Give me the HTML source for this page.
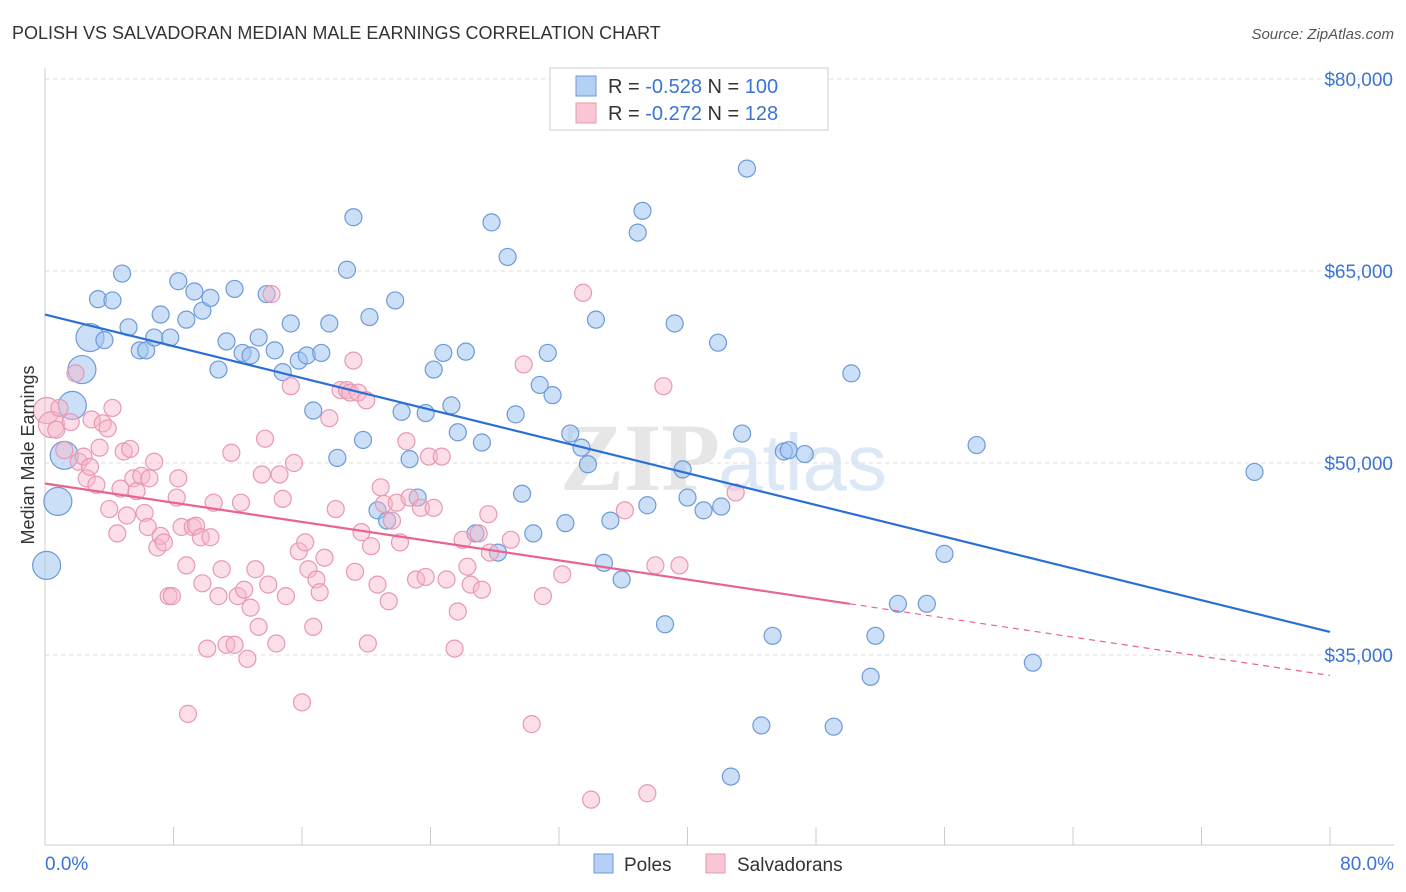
<!DOCTYPE html>
<html><head><meta charset="utf-8"><style>
body{margin:0;background:#fff;font-family:"Liberation Sans",sans-serif;}
svg{display:block}
</style></head><body>
<svg id="c" width="1406" height="892" xmlns="http://www.w3.org/2000/svg">
<text x="12" y="39" font-size="18" fill="#333">POLISH VS SALVADORAN MEDIAN MALE EARNINGS CORRELATION CHART</text>
<text x="1394" y="39" font-size="15" fill="#555" font-style="italic" text-anchor="end">Source: ZipAtlas.com</text>
<text x="720" y="490" font-size="96" fill="#e6e6e6" font-family="Liberation Serif" text-anchor="end" font-weight="bold">ZIP</text>
<text x="718" y="490" font-size="80" fill="#dce8f6">atlas</text>
<g id="grid"></g><g id="axes"></g><g id="pts"></g><g id="lines"></g>
<text transform="translate(34,455) rotate(-90)" font-size="18" fill="#333" text-anchor="middle">Median Male Earnings</text>
<g>
<rect x="550" y="68" width="278" height="62" fill="#fff" stroke="#ccc"/>
<rect x="576" y="76" width="20" height="20" fill="#b4d0f4" stroke="#6f9ad8"/>
<rect x="576" y="103" width="20" height="20" fill="#f9c6d4" stroke="#e899b2"/>
<text x="608" y="93" font-size="20" fill="#333">R = <tspan fill="#3a74d4">-0.528</tspan>   N = <tspan fill="#3a74d4">100</tspan></text>
<text x="608" y="120" font-size="20" fill="#333">R = <tspan fill="#3a74d4">-0.272</tspan>   N =  <tspan fill="#3a74d4">128</tspan></text>
</g>
<g>
<rect x="594" y="854" width="19" height="19" fill="#b4d0f4" stroke="#6f9ad8"/>
<text x="624" y="871" font-size="19" fill="#333">Poles</text>
<rect x="706" y="854" width="19" height="19" fill="#f9c6d4" stroke="#e899b2"/>
<text x="737" y="871" font-size="19" fill="#333">Salvadorans</text>
</g>
</svg>
<script>
const yTicks=[35000,50000,65000,80000];
const yTickLabels=["$35,000","$50,000","$65,000","$80,000"];
const xTickVals=[0,8,16,24,32,40,48,56,64,72,80];
const xEndLabels=["0.0%","80.0%"];
const polesX=[0.1,0.8,1.2,1.7,2.3,2.8,3.3,3.7,4.2,4.8,5.2,5.9,6.3,6.8,7.2,7.8,8.3,8.8,9.3,9.8,10.3,10.8,11.3,11.8,12.3,12.8,13.3,13.8,14.3,14.8,15.3,15.8,16.3,16.7,17.2,17.7,18.2,18.8,19.2,19.8,20.2,20.7,21.3,21.8,22.2,22.7,23.2,23.7,24.2,24.8,25.3,25.7,26.2,26.8,27.2,27.8,28.2,28.8,29.3,29.7,30.4,30.8,31.3,31.6,32.4,32.7,33.4,33.8,34.3,34.8,35.2,35.9,36.9,37.2,37.5,38.6,39.2,39.7,40.0,41.0,41.9,42.1,42.7,43.4,43.7,44.6,45.3,46.0,46.3,47.3,49.1,50.2,51.4,51.7,53.1,54.9,56.0,58.0,61.5,75.3];
const polesY=[42.0,47.0,50.6,54.5,57.3,59.8,62.8,59.6,62.7,64.8,60.6,58.8,58.8,59.8,61.6,59.8,64.2,61.2,63.4,61.9,62.9,57.3,59.5,63.6,58.6,58.4,59.8,63.2,58.8,57.1,60.9,58.0,58.4,54.1,58.6,60.9,50.4,65.1,69.2,51.8,61.4,46.3,45.5,62.7,54.0,50.3,47.3,53.9,57.3,58.6,54.5,52.4,58.7,44.5,51.6,68.8,43.0,66.1,53.8,47.6,44.5,56.1,58.6,55.3,45.3,52.3,51.2,49.9,61.2,42.2,45.5,40.9,68.0,69.7,46.7,37.4,60.9,49.5,47.3,46.3,59.4,46.6,25.5,52.3,73.0,29.5,36.5,50.9,51.0,50.7,29.4,57.0,33.3,36.5,39.0,39.0,42.9,51.4,34.4,49.3];
const salvX=[0.1,0.4,0.7,0.9,1.2,1.6,1.9,2.1,2.4,2.6,2.8,2.9,3.2,3.4,3.6,3.9,4.0,4.2,4.5,4.7,4.9,5.1,5.3,5.5,5.7,6.0,6.2,6.4,6.5,6.8,7.0,7.2,7.4,7.7,7.9,8.2,8.3,8.5,8.8,8.9,9.2,9.4,9.7,9.8,10.1,10.3,10.5,10.8,11.0,11.3,11.6,11.8,12.0,12.2,12.4,12.6,12.8,13.1,13.3,13.5,13.7,13.9,14.1,14.4,14.6,14.8,15.0,15.3,15.5,15.8,16.0,16.2,16.4,16.7,16.9,17.1,17.4,17.7,18.1,18.4,18.8,19.0,19.2,19.3,19.5,19.7,20.0,20.1,20.3,20.7,20.9,21.1,21.4,21.6,21.9,22.1,22.5,22.7,23.1,23.4,23.7,23.9,24.2,24.7,25.0,25.5,25.7,26.0,26.3,26.5,27.0,27.2,27.6,27.7,29.0,29.8,30.3,31.0,32.2,33.5,34.0,36.1,37.5,38.0,38.5,39.5,43.0];
const salvY=[54.1,53.0,52.6,54.3,51.0,53.2,57.0,50.1,50.5,48.8,49.7,53.4,48.3,51.2,53.1,52.7,46.4,54.3,44.5,48.0,50.9,45.9,51.1,48.8,47.8,49.0,46.1,45.0,48.8,50.1,43.4,44.3,43.8,39.6,39.6,47.3,48.8,45.0,42.0,30.4,45.0,45.1,44.2,40.6,35.5,44.2,46.9,39.6,41.7,35.8,50.8,35.8,39.6,46.9,40.1,34.7,38.7,41.7,37.2,49.1,51.9,40.5,63.2,35.9,49.1,47.2,39.6,56.0,50.0,43.1,31.3,43.8,41.7,37.2,40.9,39.9,42.6,53.5,46.4,55.7,55.7,55.5,58.0,41.5,55.5,44.6,54.9,35.9,43.5,40.5,48.1,46.8,39.2,45.5,46.9,43.8,51.7,47.3,40.9,46.5,41.1,50.5,46.5,50.5,40.9,35.5,38.4,44.0,41.9,40.5,44.5,40.1,46.0,43.0,44.0,57.7,29.6,39.6,41.3,63.3,23.7,46.3,24.2,42.0,56.0,42.0,47.7];
const polesTrendX=[0,80], polesTrendY=[61.6,36.8];
const salvTrendX=[0,50.1,80], salvTrendY=[48.4,39.0,33.4];
const NS="http://www.w3.org/2000/svg";
const X0=45,X1=1330,PB=845;
const xs=v=>X0+(v/80)*(X1-X0);
const ys=v=>79+(80-v/1000)*12.8;
const yk=v=>ys(v*1000);
function mk(tag,attrs,parent){const e=document.createElementNS(NS,tag);for(const k in attrs)e.setAttribute(k,attrs[k]);parent.appendChild(e);return e;}
const grid=document.getElementById('grid'),axes=document.getElementById('axes'),pts=document.getElementById('pts'),lines=document.getElementById('lines');
yTicks.forEach((t,i)=>{
 const l=mk('line',{x1:X0,x2:1394,y1:ys(t),y2:ys(t),stroke:'#ddd','stroke-dasharray':'4,4'},grid);
 
 
 const tx=mk('text',{x:1393,y:ys(t)+7,'font-size':19,fill:'#3a74d4','text-anchor':'end'},axes);
 tx.textContent=yTickLabels[i];
 
 
});
const ya=mk('line',{x1:X0,x2:X0,y1:68,y2:PB,stroke:'#ccc'},axes);


const xa=mk('line',{x1:X0,x2:1394,y1:PB,y2:PB,stroke:'#ccc'},axes);


xTickVals.forEach(v=>{
 const t=mk('line',{x1:xs(v),x2:xs(v),y1:PB,y2:PB-18,stroke:'#ccc'},axes);
 
 
});
[[0,'start',45],[80,'end',1394]].forEach((d,i)=>{
 const t=mk('text',{x:d[2],y:870,'font-size':19,fill:'#3a74d4','text-anchor':d[1]},axes);
 t.textContent=xEndLabels[i];
 
 
});
polesX.forEach((x,i)=>{
 const c=mk('circle',{cx:xs(x),cy:yk(polesY[i]),r:i<6?14:8.5,fill:'rgba(160,196,240,0.55)',stroke:'#6f9ad8','stroke-width':1.2},pts);
 
 
});
salvX.forEach((x,i)=>{
 const c=mk('circle',{cx:xs(x),cy:yk(salvY[i]),r:i<2?13:8.5,fill:'rgba(247,182,202,0.45)',stroke:'#e899b2','stroke-width':1.2},pts);
 
 
});
const bl=mk('line',{x1:xs(polesTrendX[0]),y1:yk(polesTrendY[0]),x2:xs(polesTrendX[1]),y2:yk(polesTrendY[1]),stroke:'#2a6fd6','stroke-width':2.2},lines);


const pl=mk('line',{x1:xs(salvTrendX[0]),y1:yk(salvTrendY[0]),x2:xs(salvTrendX[1]),y2:yk(salvTrendY[1]),stroke:'#e8638f','stroke-width':2.2},lines);


const pd=mk('line',{x1:xs(salvTrendX[1]),y1:yk(salvTrendY[1]),x2:xs(salvTrendX[2]),y2:yk(salvTrendY[2]),stroke:'#e8638f','stroke-width':1.2,'stroke-dasharray':'6,5'},lines);


</script>
</body></html>
